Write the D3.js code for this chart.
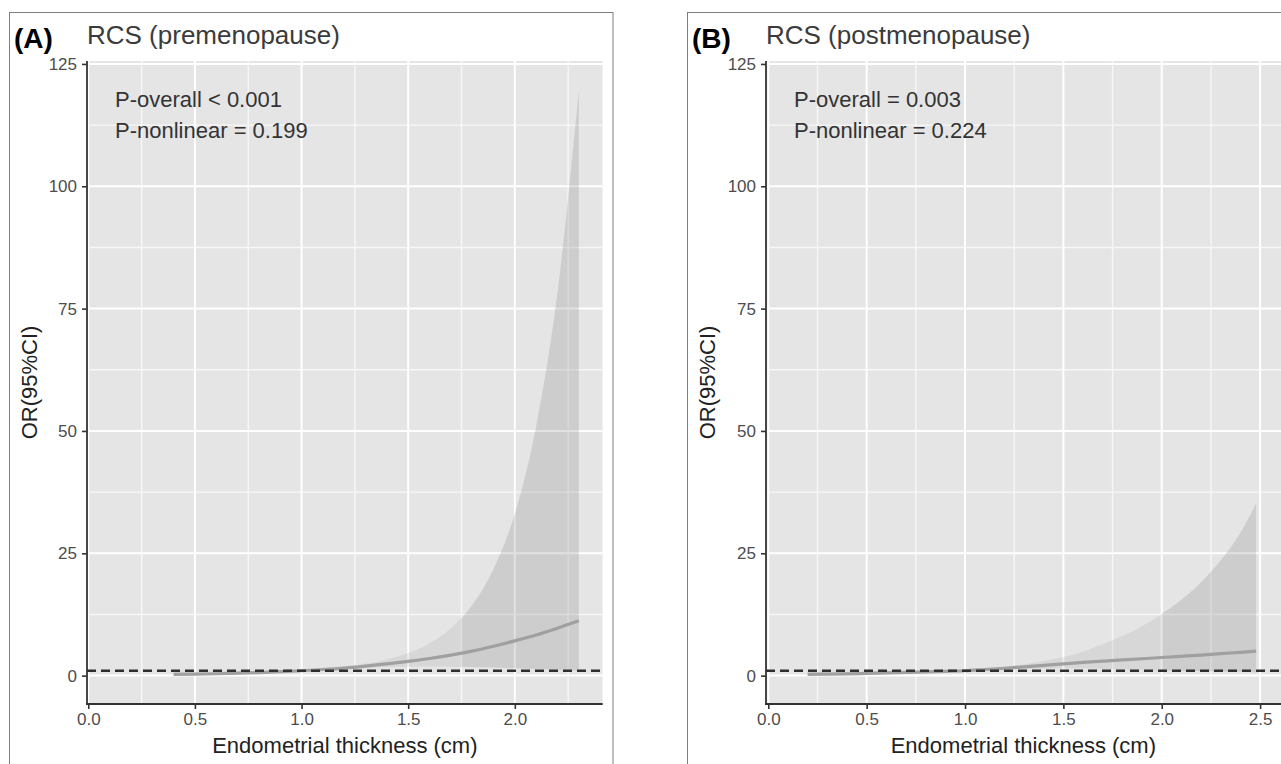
<!DOCTYPE html>
<html>
<head>
<meta charset="utf-8">
<script src="https://cdn.jsdelivr.net/npm/d3@7"></script>
<style>
  html, body { margin: 0; padding: 0; background: #fff; }
  svg { display: block; font-family: "Liberation Sans", Arial, sans-serif; }
</style>
</head>
<body>
<svg id="chart" width="1281" height="764"></svg>
<script>
// ---------------- data ----------------
const xA     = [0.4,0.5,0.6,0.7,0.8,0.9,1.0,1.1,1.2,1.3,1.4,1.5,1.6,1.7,1.8,1.9,2.0,2.1,2.2,2.3];
const orA    = [0.25,0.3,0.38,0.5,0.62,0.8,1.0,1.25,1.55,1.95,2.4,2.9,3.5,4.2,5.0,6.0,7.1,8.3,9.7,11.2];
const upperA = [0.8,0.82,0.86,0.9,0.94,0.98,1.0,1.3,1.8,2.4,3.3,4.6,6.6,9.7,14.4,21.8,33.1,50.9,78.3,119.5];
const lowerA = [0.08,0.11,0.17,0.28,0.41,0.65,1.0,1.2,1.33,1.58,1.75,1.83,1.86,1.82,1.74,1.65,1.52,1.35,1.2,1.05];

const xB     = [0.2,0.3,0.4,0.5,0.6,0.7,0.8,0.9,1.0,1.1,1.2,1.3,1.4,1.5,1.6,1.7,1.8,1.9,2.0,2.1,2.2,2.3,2.4,2.48];
const orB    = [0.25,0.3,0.37,0.45,0.55,0.65,0.75,0.87,1.0,1.25,1.5,1.8,2.1,2.4,2.7,2.95,3.2,3.45,3.7,3.95,4.2,4.5,4.75,5.0];
const upperB = [0.75,0.78,0.81,0.85,0.88,0.92,0.95,0.98,1.0,1.3,1.7,2.3,3.0,3.8,4.9,6.4,8.1,10.1,12.6,15.5,19.1,23.6,29.2,35.2];
const lowerB = [0.08,0.11,0.16,0.23,0.33,0.45,0.58,0.77,1.0,1.2,1.32,1.41,1.47,1.52,1.49,1.36,1.26,1.18,1.09,1.0,0.92,0.86,0.77,0.71];

const yTicks      = [0, 25, 50, 75, 100, 125];
const yMinorTicks = [12.5, 37.5, 62.5, 87.5, 112.5];
const xTicksA     = [0, 0.5, 1.0, 1.5, 2.0];
const xMinorA     = [0.25, 0.75, 1.25, 1.75, 2.25];
const xTicksB     = [0, 0.5, 1.0, 1.5, 2.0, 2.5];
const xMinorB     = [0.25, 0.75, 1.25, 1.75, 2.25];
const refOR       = 1;

const panels = [
  { tag: "(A)", title: "RCS (premenopause)", p1: "P-overall < 0.001", p2: "P-nonlinear = 0.199",
    x: xA, or: orA, up: upperA, lo: lowerA, ticks: xTicksA, minor: xMinorA, darkFrom: 1.75,
    frame: [9.5, 12.5, 603.5, 800], plot: [87, 602.7], xdom: [-0.006, 2.412] },
  { tag: "(B)", title: "RCS (postmenopause)", p1: "P-overall = 0.003", p2: "P-nonlinear = 0.224",
    x: xB, or: orB, up: upperB, lo: lowerB, ticks: xTicksB, minor: xMinorB, darkFrom: 2.0,
    frame: [687.5, 12.5, 700, 800], plot: [766, 1290], xdom: [-0.0117, 2.652] }
];

const xLabel = "Endometrial thickness (cm)";
const yLabel = "OR(95%CI)";

// ---------------- drawing ----------------
const svg = d3.select("#chart");
const plotTop = 61, plotBottom = 704;
const y = d3.scaleLinear().domain([-5.8, 125.6]).range([plotBottom, plotTop]);

panels.forEach((p, i) => {
  const g = svg.append("g");
  const [fx, fy, fw, fh] = p.frame;
  const off = fx - 9.5;

  g.append("rect").attr("x", fx).attr("y", fy).attr("width", fw).attr("height", fh)
    .attr("fill", "none").attr("stroke", "#7f7f7f").attr("stroke-width", 1);

  const x = d3.scaleLinear().domain(p.xdom).range(p.plot);
  const L = p.plot[0], R = p.plot[1];

  const clipId = "clip" + i;
  svg.append("defs").append("clipPath").attr("id", clipId)
    .append("rect").attr("x", L).attr("y", plotTop).attr("width", R - L).attr("height", plotBottom - plotTop);
  const darkId = "dark" + i;
  svg.append("defs").append("clipPath").attr("id", darkId)
    .append("rect").attr("x", x(p.darkFrom)).attr("y", plotTop).attr("width", R - x(p.darkFrom)).attr("height", plotBottom - plotTop);

  const pg = g.append("g").attr("clip-path", `url(#${clipId})`);
  pg.append("rect").attr("x", L).attr("y", plotTop).attr("width", R - L).attr("height", plotBottom - plotTop)
    .attr("fill", "#e5e5e5");

  // grid
  pg.selectAll(".hmin").data(yMinorTicks).join("line")
    .attr("x1", L).attr("x2", R).attr("y1", d => y(d)).attr("y2", d => y(d))
    .attr("stroke", "#f7f7f7").attr("stroke-width", 1.4);
  pg.selectAll(".vmin").data(p.minor).join("line").attr("class", "vmin")
    .attr("y1", plotTop).attr("y2", plotBottom).attr("x1", d => x(d)).attr("x2", d => x(d))
    .attr("stroke", "#f7f7f7").attr("stroke-width", 1.4);
  pg.selectAll(".hmaj").data(yTicks).join("line").attr("class", "hmaj")
    .attr("x1", L).attr("x2", R).attr("y1", d => y(d)).attr("y2", d => y(d))
    .attr("stroke", "#ffffff").attr("stroke-width", 2);
  pg.selectAll(".vmaj").data(p.ticks).join("line").attr("class", "vmaj")
    .attr("y1", plotTop).attr("y2", plotBottom).attr("x1", d => x(d)).attr("x2", d => x(d))
    .attr("stroke", "#ffffff").attr("stroke-width", 2);

  const rows = p.x.map((xv, k) => ({ x: xv, or: p.or[k], up: p.up[k], lo: p.lo[k] }));
  const area = d3.area().x(d => x(d.x)).y0(d => y(d.lo)).y1(d => y(d.up)).curve(d3.curveMonotoneX);
  const line = d3.line().x(d => x(d.x)).y(d => y(d.or)).curve(d3.curveMonotoneX);

  pg.append("path").datum(rows).attr("d", area).attr("fill", "#8c8c8c").attr("fill-opacity", 0.16);
  pg.append("g").attr("clip-path", `url(#${darkId})`)
    .append("path").datum(rows).attr("d", area).attr("fill", "#8c8c8c").attr("fill-opacity", 0.12);

  pg.append("path").datum(rows).attr("d", line).attr("fill", "none")
    .attr("stroke", "#a0a0a0").attr("stroke-width", 3.2);

  pg.append("line").attr("x1", L).attr("x2", R).attr("y1", y(refOR)).attr("y2", y(refOR))
    .attr("stroke", "#2e2e2e").attr("stroke-width", 2.4).attr("stroke-dasharray", "9,5");

  // axes
  const yAxis = d3.axisLeft(y).tickValues(yTicks).tickSize(5).tickPadding(5).tickFormat(d3.format("d"));
  const ya = g.append("g").attr("transform", `translate(${L},0)`).call(yAxis);
  ya.select(".domain").attr("d", `M0,${plotTop}V${plotBottom + 1}`).attr("stroke", "#333").attr("stroke-width", 1.8);
  ya.selectAll(".tick line").attr("stroke", "#333").attr("stroke-width", 1.6);
  ya.selectAll(".tick text").attr("fill", "#4d4d4d").attr("font-size", 17)
    .attr("font-family", "'Liberation Sans', Arial, sans-serif");

  const xAxis = d3.axisBottom(x).tickValues(p.ticks).tickSize(5).tickPadding(4).tickFormat(d3.format(".1f"));
  const xa = g.append("g").attr("transform", `translate(0,${plotBottom})`).call(xAxis);
  xa.select(".domain").attr("d", `M${L - 1},0H${R}`).attr("stroke", "#333").attr("stroke-width", 1.8);
  xa.selectAll(".tick line").attr("stroke", "#333").attr("stroke-width", 1.6);
  xa.selectAll(".tick text").attr("fill", "#4d4d4d").attr("font-size", 17)
    .attr("font-family", "'Liberation Sans', Arial, sans-serif");

  // labels
  g.append("text").attr("x", 14 + off).attr("y", 48).attr("font-size", 28).attr("font-weight", "bold")
    .attr("fill", "#000").text(p.tag);
  g.append("text").attr("x", L).attr("y", 44).attr("font-size", 26).attr("fill", "#3b3b3b").text(p.title);
  g.append("text").attr("x", L + 28).attr("y", 107).attr("font-size", 22).attr("fill", "#333").text(p.p1);
  g.append("text").attr("x", L + 28).attr("y", 138).attr("font-size", 22).attr("fill", "#333").text(p.p2);

  g.append("text").attr("x", (L + Math.min(R, 602.7 + off)) / 2).attr("y", 753).attr("text-anchor", "middle")
    .attr("font-size", 22).attr("fill", "#222").text(xLabel);
  g.append("text").attr("transform", `translate(${37 + off},${(plotTop + plotBottom) / 2}) rotate(-90)`)
    .attr("text-anchor", "middle").attr("font-size", 22).attr("fill", "#222").text(yLabel);
});
</script>
</body>
</html>
